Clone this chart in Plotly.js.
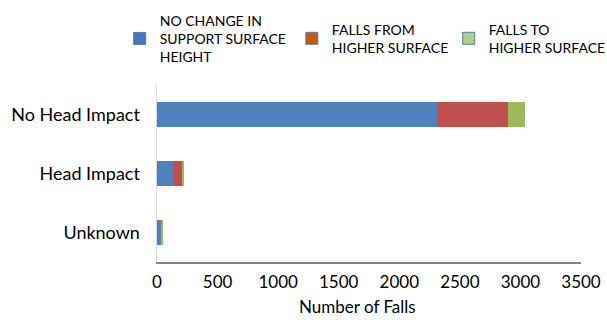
<!DOCTYPE html>
<html>
<head>
<meta charset="utf-8">
<script src="https://cdn.plot.ly/plotly-3.0.1.min.js"></script>
<style>html,body{margin:0;padding:0;background:#fff;}#chart{width:607px;height:322px;}</style>
</head>
<body>
<div id="chart"></div>
<script>
var categories = ['No Head Impact', 'Head Impact', 'Unknown'];
var seriesNames = ['NO CHANGE IN<br>SUPPORT SURFACE<br>HEIGHT', 'FALLS FROM<br>HIGHER SURFACE', 'FALLS TO<br>HIGHER SURFACE'];
var noChange = [2310, 133, 33];
var fallsFrom = [590, 74, 0];
var fallsTo = [140, 17, 17];
var xTicks = [0, 500, 1000, 1500, 2000, 2500, 3000, 3500];
var xTitle = 'Number of Falls';

var barColors = ['#4F81BD', '#C0504D', '#9BBB59'];
var legendColors = ['#4472C4', '#C55A11', '#A9D18E'];
var legendIds = ['legend', 'legend2', 'legend3'];
var legendX = [-0.088, 0.318, 0.688];
var values = [noChange, fallsFrom, fallsTo];

var font = 'Lato, "Open Sans", sans-serif';
var traces = [];
values.forEach(function (v, i) {
  traces.push({
    type: 'bar', orientation: 'h', x: v, y: categories, name: seriesNames[i],
    marker: {color: barColors[i]}, showlegend: false, hoverinfo: 'x+y'
  });
});
values.forEach(function (v, i) {
  traces.push({
    type: 'bar', orientation: 'h', x: [null], y: [categories[0]], name: seriesNames[i],
    legend: legendIds[i],
    marker: {color: legendColors[i], line: {color: '#5B7BA8', width: 1}}, showlegend: true, hoverinfo: 'skip'
  });
});

var layout = {
  width: 607, height: 322,
  margin: {l: 157, r: 26, t: 84.5, b: 60, autoexpand: false},
  paper_bgcolor: '#fff', plot_bgcolor: '#fff',
  barmode: 'stack', bargap: 0.585,
  font: {family: font, color: '#000', size: 17},
  xaxis: {
    range: [0, 3500], tickvals: xTicks, ticktext: xTicks.map(String),
    showgrid: false, zeroline: false, showline: true, linecolor: '#868686', linewidth: 1.5,
    ticks: '', tickfont: {size: 17, color: '#000'}, ticklabelstandoff: 4
  },
  yaxis: {
    type: 'category', autorange: 'reversed', showgrid: false, zeroline: false,
    showline: true, linecolor: '#D9D9D9', linewidth: 1.5, ticks: '',
    ticklabelstandoff: 12, tickfont: {size: 18, color: '#000'}
  },
  annotations: [{
    text: xTitle, xref: 'paper', yref: 'paper', x: 0.472, y: -0.2535,
    xanchor: 'center', yanchor: 'middle', showarrow: false,
    font: {size: 17, color: '#000', family: font}
  }],
  showlegend: true
};
legendIds.forEach(function (id, i) {
  layout[id] = {
    orientation: 'h', x: legendX[i], xanchor: 'left', y: 1.262, yanchor: 'middle',
    font: {size: 14, color: '#000', family: font}, valign: 'middle',
    bgcolor: 'rgba(0,0,0,0)', borderwidth: 0
  };
});

Plotly.newPlot('chart', traces, layout, {displayModeBar: false, staticPlot: true});
</script>
</body>
</html>
